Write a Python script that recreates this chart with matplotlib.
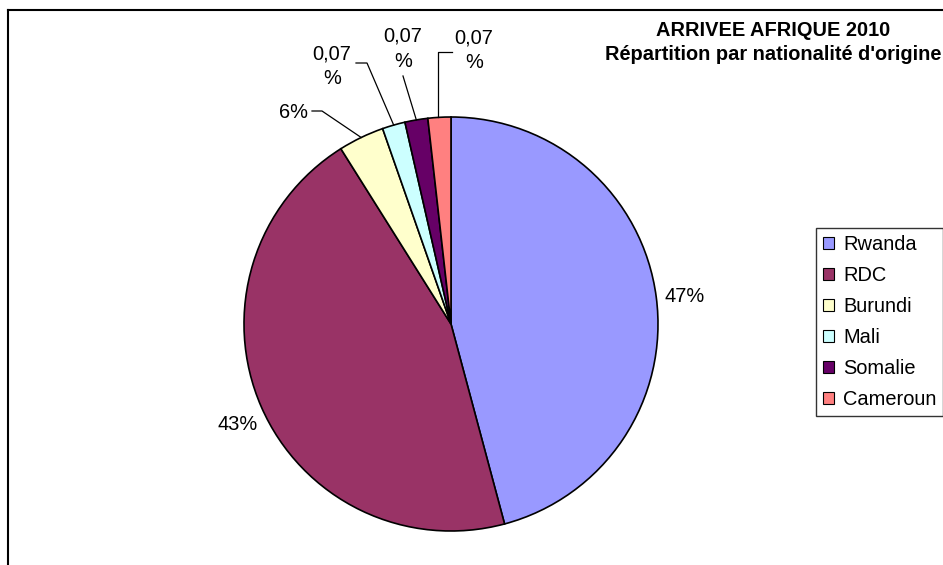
import numpy as np
import matplotlib
matplotlib.use("Agg")
import matplotlib.pyplot as plt
from matplotlib.patches import Patch
from matplotlib.lines import Line2D

plt.rcParams['font.family'] = ['Liberation Sans', 'DejaVu Sans']

# Données (effectifs estimés d'après les angles)
pays = ['Rwanda', 'RDC', 'Burundi', 'Mali', 'Somalie', 'Cameroun']
effectifs = [77, 76, 6, 3, 3, 3]
etiquettes = ['47%', '43%', '6%', '0,07\n%', '0,07\n%', '0,07\n%']
couleurs = ['#9999FF', '#993366', '#FFFFCC', '#CCFFFF', '#660066', '#FF8080']

W, H = 943, 565
fig = plt.figure(figsize=(W / 100, H / 100), dpi=100)

# centre et rayon du camembert en pixels
cx, cy, r = 451, 324, 207
ax = fig.add_axes([(cx - r) / W, (H - cy - r) / H, 2 * r / W, 2 * r / H])

wedges, _ = ax.pie(effectifs, colors=couleurs, startangle=90, counterclock=False,
                   radius=1, wedgeprops=dict(edgecolor='black', linewidth=1.2))
ax.set_xlim(-1, 1)
ax.set_ylim(-1, 1)
ax.set_aspect('equal')
ax.axis('off')


def px(x, y):
    # pixels -> coordonnées données
    return (x - cx) / r, (cy - y) / r


def bord(w):
    a = np.deg2rad((w.theta1 + w.theta2) / 2)
    return np.cos(a), np.sin(a)


fs = 14.4
# grandes parts
ax.text(*px(685, 297), etiquettes[0], ha='center', va='center', fontsize=fs)
ax.text(*px(238, 425), etiquettes[1], ha='center', va='center', fontsize=fs)

# petites parts avec lignes de rappel
pos_txt = [(293, 112), (332, 66), (403, 49), (474, 50)]
coudes = [[(312, 111), (322, 111)],
          [(356, 63), (367, 63)],
          [(403, 76)],
          [(452, 52), (438, 52)]]
for i, (tp, cp) in enumerate(zip(pos_txt, coudes)):
    w = wedges[i + 2]
    ax.text(*px(*tp), etiquettes[i + 2], ha='center', va='center', fontsize=fs,
            multialignment='center', linespacing=1.4, clip_on=False)
    pts = [px(*p) for p in cp]
    ex, ey = bord(w)
    if i == 3:
        ex = pts[-1][0]
        ey = np.sqrt(1 - ex ** 2)
    pts.append((ex, ey))
    xs, ys = zip(*pts)
    ax.plot(xs, ys, color='black', lw=0.9, clip_on=False)

# titre
fig.text(773 / W, 1 - 30 / H, 'ARRIVEE AFRIQUE 2010', ha='center', va='center',
         fontsize=fs, fontweight='bold')
fig.text(773 / W, 1 - 55 / H, "Répartition par nationalité d'origine", ha='center',
         va='center', fontsize=fs, fontweight='bold')

# légende
handles = [Patch(facecolor=c, edgecolor='black', linewidth=0.8) for c in couleurs]
leg = fig.legend(handles, pays, loc='upper left', bbox_to_anchor=(816 / W, 1 - 228 / H),
                 borderaxespad=0, fontsize=fs, frameon=True, fancybox=False,
                 handlelength=0.55, handleheight=0.55, handletextpad=0.45,
                 labelspacing=0.6, borderpad=0.35)
leg.get_frame().set_edgecolor('black')
leg.get_frame().set_linewidth(1.0)

# bord de la zone graphique
fig.add_artist(Line2D([8 / W, 1], [1 - 10 / H, 1 - 10 / H], color='black', lw=1.5))
fig.add_artist(Line2D([8 / W, 8 / W], [0, 1 - 10 / H], color='black', lw=1.5))

fig.savefig('out.png', dpi=100)
